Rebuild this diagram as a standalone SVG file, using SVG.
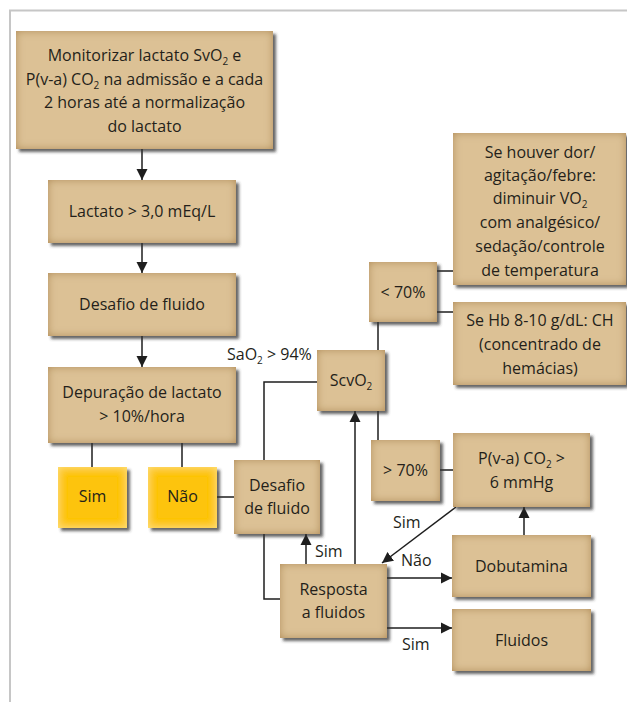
<svg xmlns="http://www.w3.org/2000/svg" width="627" height="702" viewBox="0 0 627 702">
  <defs>
    <!-- box body with soft darker rim and a drop shadow -->
    <filter id="tanbox" x="-10%" y="-10%" width="130%" height="130%">
      <feGaussianBlur in="SourceAlpha" stdDeviation="4" result="blur"/>
      <feComposite in="SourceAlpha" in2="blur" operator="arithmetic" k2="1" k3="-1" result="rim"/>
      <feFlood flood-color="#b08a52"/>
      <feComposite in2="rim" operator="in" result="rimc"/>
      <feGaussianBlur in="SourceAlpha" stdDeviation="1.6" result="sb"/>
      <feOffset in="sb" dx="2.5" dy="3" result="so"/>
      <feFlood flood-color="#333333" flood-opacity="0.75"/>
      <feComposite in2="so" operator="in" result="shadow"/>
      <feMerge>
        <feMergeNode in="shadow"/>
        <feMergeNode in="SourceGraphic"/>
        <feMergeNode in="rimc"/>
      </feMerge>
    </filter>
    <filter id="goldbox" x="-10%" y="-10%" width="130%" height="130%">
      <feGaussianBlur in="SourceAlpha" stdDeviation="4" result="blur"/>
      <feComposite in="SourceAlpha" in2="blur" operator="arithmetic" k2="1" k3="-1" result="rim"/>
      <feFlood flood-color="#ffe27a"/>
      <feComposite in2="rim" operator="in" result="rimc"/>
      <feGaussianBlur in="SourceAlpha" stdDeviation="1.6" result="sb"/>
      <feOffset in="sb" dx="2.5" dy="3" result="so"/>
      <feFlood flood-color="#333333" flood-opacity="0.75"/>
      <feComposite in2="so" operator="in" result="shadow"/>
      <feMerge>
        <feMergeNode in="shadow"/>
        <feMergeNode in="SourceGraphic"/>
        <feMergeNode in="rimc"/>
      </feMerge>
    </filter>
    <marker id="arrow" markerUnits="userSpaceOnUse" markerWidth="12" markerHeight="12" viewBox="0 0 12 12" refX="11" refY="6" orient="auto">
      <path d="M0,0.5 L11,6 L0,11.5 Z" fill="#1e1e1e"/>
    </marker>
  </defs>
  <style>
    .box { fill: #dcc195; filter: url(#tanbox); }
    .ybox { fill: #fdc408; filter: url(#goldbox); }
    text { font-family: "Open Sans", "Noto Sans", "Liberation Sans", sans-serif; font-size: 16px; fill: #241f1a; text-anchor: middle; }
    .lbl { text-anchor: start; }
    .sub { font-size: 10px; }
    .wire { fill: none; stroke: #1e1e1e; stroke-width: 1.5; }
    .frame { fill: none; stroke: #c6c6c6; stroke-width: 2; }
  </style>

  <!-- outer frame -->
  <path class="frame" d="M10,702 V10.5 H627"/>

  <!-- connectors -->
  <g id="connectors">
    <line class="wire" x1="142" y1="149" x2="142" y2="180" marker-end="url(#arrow)"/>
    <line class="wire" x1="142" y1="243" x2="142" y2="273" marker-end="url(#arrow)"/>
    <line class="wire" x1="142" y1="336" x2="142" y2="367" marker-end="url(#arrow)"/>
    <line class="wire" x1="92" y1="443" x2="92" y2="467"/>
    <line class="wire" x1="182" y1="443" x2="182" y2="467"/>
    <line class="wire" x1="217" y1="497" x2="234" y2="497"/>
    <polyline class="wire" points="264,460 264,382 317,382"/>
    <polyline class="wire" points="264,534 264,599 280,599"/>
    <line class="wire" x1="306" y1="564" x2="306" y2="534" marker-end="url(#arrow)"/>
    <line class="wire" x1="355" y1="564" x2="355" y2="411" marker-end="url(#arrow)"/>
    <line class="wire" x1="378" y1="350" x2="378" y2="322"/>
    <line class="wire" x1="378" y1="411" x2="378" y2="440"/>
    <line class="wire" x1="437" y1="271" x2="453" y2="271"/>
    <line class="wire" x1="437" y1="312" x2="453" y2="312"/>
    <line class="wire" x1="440" y1="470" x2="453" y2="470"/>
    <line class="wire" x1="456" y1="507" x2="382" y2="563" marker-end="url(#arrow)"/>
    <line class="wire" x1="524" y1="535" x2="524" y2="507" marker-end="url(#arrow)"/>
    <line class="wire" x1="387" y1="578" x2="452" y2="578" marker-end="url(#arrow)"/>
    <line class="wire" x1="387" y1="628" x2="452" y2="628" marker-end="url(#arrow)"/>

    <text class="lbl" x="227" y="360">SaO<tspan class="sub" dy="4">2</tspan><tspan dy="-4"> &gt; 94%</tspan></text>
    <text class="lbl" x="315" y="557">Sim</text>
    <text class="lbl" x="393" y="528">Sim</text>
    <text class="lbl" x="401" y="566">Não</text>
    <text class="lbl" x="402" y="650">Sim</text>
  </g>

  <!-- nodes -->
  <g id="monitorizar">
    <rect class="box" x="16" y="31" width="257" height="118"/>
    <text x="144.5" y="61">Monitorizar lactato SvO<tspan class="sub" dy="4">2</tspan><tspan dy="-4"> e</tspan></text>
    <text x="144.5" y="85">P(v-a) CO<tspan class="sub" dy="4">2</tspan><tspan dy="-4"> na admissão e a cada</tspan></text>
    <text x="144.5" y="108">2 horas até a normalização</text>
    <text x="144.5" y="132">do lactato</text>
  </g>

  <g id="lactato">
    <rect class="box" x="48" y="180" width="188" height="63"/>
    <text x="142" y="217">Lactato &gt; 3,0 mEq/L</text>
  </g>

  <g id="desafio1">
    <rect class="box" x="48" y="273" width="188" height="63"/>
    <text x="142" y="310">Desafio de fluido</text>
  </g>

  <g id="depuracao">
    <rect class="box" x="48" y="367" width="188" height="76"/>
    <text x="142" y="398">Depuração de lactato</text>
    <text x="142" y="422">&gt; 10%/hora</text>
  </g>

  <g id="sim">
    <rect class="ybox" x="58" y="467" width="69" height="61"/>
    <text x="92.5" y="502">Sim</text>
  </g>

  <g id="nao">
    <rect class="ybox" x="148" y="467" width="69" height="61"/>
    <text x="182.5" y="502">Não</text>
  </g>

  <g id="desafio2">
    <rect class="box" x="234" y="460" width="86" height="74"/>
    <text x="277" y="491">Desafio</text>
    <text x="277" y="514">de fluido</text>
  </g>

  <g id="resposta">
    <rect class="box" x="280" y="564" width="107" height="74"/>
    <text x="333.5" y="595">Resposta</text>
    <text x="333.5" y="618">a fluidos</text>
  </g>

  <g id="scvo2">
    <rect class="box" x="317" y="350" width="68" height="61"/>
    <text x="351" y="386">ScvO<tspan class="sub" dy="4">2</tspan></text>
  </g>

  <g id="menor70">
    <rect class="box" x="369" y="262" width="68" height="60"/>
    <text x="403" y="298">&lt; 70%</text>
  </g>

  <g id="dor">
    <rect class="box" x="453" y="133" width="173" height="152"/>
    <text x="540" y="158">Se houver dor/</text>
    <text x="540" y="181">agitação/febre:</text>
    <text x="540" y="204">diminuir VO<tspan class="sub" dy="4">2</tspan></text>
    <text x="540" y="228">com analgésico/</text>
    <text x="540" y="252">sedação/controle</text>
    <text x="540" y="276">de temperatura</text>
  </g>

  <g id="hb">
    <rect class="box" x="453" y="302" width="173" height="83"/>
    <text x="540" y="326">Se Hb 8-10 g/dL: CH</text>
    <text x="540" y="350">(concentrado de</text>
    <text x="540" y="374">hemácias)</text>
  </g>

  <g id="maior70">
    <rect class="box" x="371" y="440" width="69" height="61"/>
    <text x="405.5" y="476">&gt; 70%</text>
  </g>

  <g id="pvaco2">
    <rect class="box" x="453" y="433" width="137" height="74"/>
    <text x="521.5" y="464">P(v-a) CO<tspan class="sub" dy="4">2</tspan><tspan dy="-4"> &gt;</tspan></text>
    <text x="521.5" y="488">6 mmHg</text>
  </g>

  <g id="dobutamina">
    <rect class="box" x="452" y="535" width="139" height="62"/>
    <text x="521.5" y="572">Dobutamina</text>
  </g>

  <g id="fluidos">
    <rect class="box" x="452" y="609" width="139" height="62"/>
    <text x="521.5" y="646">Fluidos</text>
  </g>
</svg>
